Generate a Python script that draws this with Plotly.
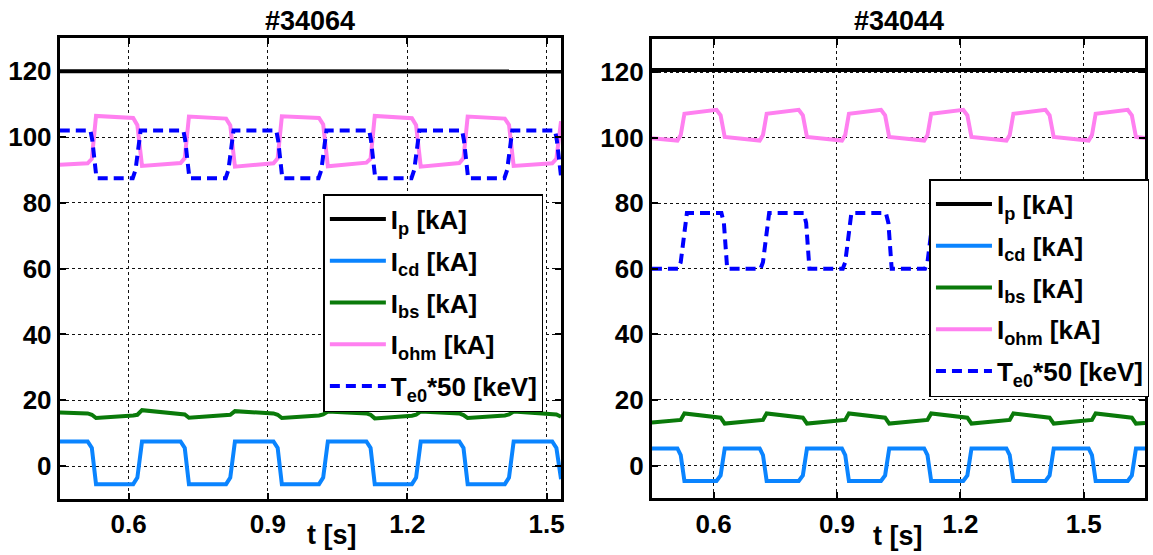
import plotly.graph_objects as go

W, H = 1153, 555

# ---------------- data: shot #34064 (left) ----------------
t_left = [0.452,
          0.512, 0.521, 0.530, 0.610, 0.619, 0.629,
          0.712, 0.721, 0.730, 0.810, 0.819, 0.829,
          0.912, 0.921, 0.930, 1.010, 1.019, 1.029,
          1.112, 1.121, 1.130, 1.210, 1.219, 1.229,
          1.312, 1.321, 1.330, 1.410, 1.419, 1.429,
          1.512, 1.521, 1.531]
ip_left = [120.0,
           120.0, 120.0, 119.8, 119.8, 119.9, 120.0,
           120.1, 120.0, 119.8, 119.8, 119.9, 120.0,
           120.1, 120.0, 119.8, 119.8, 119.9, 120.0,
           120.1, 120.0, 119.8, 119.8, 119.9, 120.0,
           120.1, 120.0, 119.8, 119.8, 119.9, 120.0,
           120.1, 120.0, 119.9]
icd_left = [7.5,
            7.5, 5.5, -5.5, -5.5, -3.5, 7.5,
            7.5, 5.5, -5.5, -5.5, -3.5, 7.5,
            7.5, 5.5, -5.5, -5.5, -3.5, 7.5,
            7.5, 5.5, -5.5, -5.5, -3.5, 7.5,
            7.5, 5.5, -5.5, -5.5, -3.5, 7.5,
            7.5, 5.5, -4.0]
ibs_left = [16.3,
            16.0, 15.6, 14.6, 15.4, 15.6, 17.0,
            16.1, 15.7, 14.7, 15.3, 15.6, 16.7,
            16.0, 15.6, 14.6, 15.4, 15.7, 16.6,
            16.0, 15.6, 14.5, 15.3, 15.6, 16.6,
            16.0, 15.5, 14.6, 15.4, 15.7, 16.6,
            16.0, 15.7, 15.0]
iohm_left = [91.6,
             92.0, 93.4, 106.4, 105.8, 103.6, 91.2,
             92.1, 93.6, 106.2, 105.6, 103.5, 91.0,
             92.0, 93.5, 106.3, 105.8, 103.8, 91.1,
             92.2, 93.4, 106.4, 105.7, 103.6, 91.0,
             92.1, 93.6, 106.2, 105.6, 103.7, 91.2,
             92.0, 93.4, 104.8]
t_te_left = [0.452,
             0.518, 0.522, 0.531, 0.609, 0.615, 0.626,
             0.718, 0.722, 0.731, 0.809, 0.815, 0.826,
             0.918, 0.922, 0.931, 1.009, 1.015, 1.026,
             1.118, 1.122, 1.131, 1.209, 1.215, 1.226,
             1.318, 1.322, 1.331, 1.409, 1.415, 1.426,
             1.518, 1.522, 1.531]
te_left = [102.0,
           102.0, 99.0, 87.5, 87.5, 90.0, 102.0,
           102.0, 99.0, 87.5, 87.5, 90.0, 102.0,
           102.0, 99.0, 87.5, 87.5, 90.0, 102.0,
           102.0, 99.0, 87.5, 87.5, 90.0, 102.0,
           102.0, 99.0, 87.5, 87.5, 90.0, 102.0,
           102.0, 99.0, 88.0]

# ---------------- data: shot #34044 (right) ----------------
t_right = [0.450,
           0.512, 0.520, 0.529, 0.607, 0.617, 0.627,
           0.712, 0.720, 0.729, 0.807, 0.817, 0.827,
           0.912, 0.920, 0.929, 1.007, 1.017, 1.027,
           1.112, 1.120, 1.129, 1.207, 1.217, 1.227,
           1.312, 1.320, 1.329, 1.407, 1.417, 1.427,
           1.512, 1.520, 1.529, 1.607, 1.617, 1.627,
           1.649]
ip_right = [120.6,
            120.6, 120.5, 120.6, 120.5, 120.6, 120.6,
            120.6, 120.5, 120.6, 120.5, 120.6, 120.6,
            120.6, 120.5, 120.6, 120.5, 120.6, 120.6,
            120.6, 120.5, 120.6, 120.5, 120.6, 120.6,
            120.6, 120.5, 120.6, 120.5, 120.6, 120.6,
            120.6, 120.5, 120.6, 120.5, 120.6, 120.6,
            120.6]
icd_right = [5.2,
             5.2, 3.2, -4.7, -4.7, -3.0, 5.2,
             5.2, 3.2, -4.7, -4.7, -3.0, 5.2,
             5.2, 3.2, -4.7, -4.7, -3.0, 5.2,
             5.2, 3.2, -4.7, -4.7, -3.0, 5.2,
             5.2, 3.2, -4.7, -4.7, -3.0, 5.2,
             5.2, 3.2, -4.7, -4.7, -3.0, 5.2,
             5.2]
ibs_right = [13.1,
             13.8, 13.9, 15.9, 15.0, 14.6, 12.8,
             13.8, 13.9, 15.9, 15.0, 14.6, 12.8,
             13.8, 13.9, 15.9, 15.0, 14.6, 12.8,
             13.8, 13.9, 15.9, 15.0, 14.6, 12.8,
             13.8, 13.9, 15.9, 15.0, 14.6, 12.8,
             13.8, 13.9, 15.9, 15.0, 14.6, 12.8,
             13.0]
iohm_right = [99.8,
              99.1, 100.8, 107.3, 108.5, 106.8, 100.2,
              99.1, 100.8, 107.3, 108.5, 106.8, 100.2,
              99.1, 100.8, 107.3, 108.5, 106.8, 100.2,
              99.1, 100.8, 107.3, 108.5, 106.8, 100.2,
              99.1, 100.8, 107.3, 108.5, 106.8, 100.2,
              99.1, 100.8, 107.3, 108.5, 106.8, 100.2,
              99.9]
t_te_right = [0.450,
              0.514, 0.520, 0.535, 0.619, 0.625, 0.633,
              0.714, 0.720, 0.735, 0.819, 0.825, 0.833,
              0.914, 0.920, 0.935, 1.019, 1.025, 1.033,
              1.114, 1.120, 1.135, 1.219, 1.225, 1.233,
              1.314, 1.320, 1.335, 1.419, 1.425, 1.433,
              1.514, 1.520, 1.535, 1.619, 1.625, 1.633,
              1.649]
te_right = [60.0,
            60.0, 62.0, 77.0, 77.0, 74.0, 60.0,
            60.0, 62.0, 77.0, 77.0, 74.0, 60.0,
            60.0, 62.0, 77.0, 77.0, 74.0, 60.0,
            60.0, 62.0, 77.0, 77.0, 74.0, 60.0,
            60.0, 62.0, 77.0, 77.0, 74.0, 60.0,
            60.0, 62.0, 77.0, 77.0, 74.0, 60.0,
            60.0]

titles = ["#34064", "#34044"]
x_ticks = [0.6, 0.9, 1.2, 1.5]
x_tick_text = ["0.6", "0.9", "1.2", "1.5"]
y_ticks = [0, 20, 40, 60, 80, 100, 120]
names = ["I<sub>p</sub> [kA]", "I<sub>cd</sub> [kA]", "I<sub>bs</sub> [kA]",
         "I<sub>ohm</sub> [kA]", "T<sub>e0</sub>*50 [keV]"]

FONT = "Liberation Sans, Arial, sans-serif"
colors = ["#000000", "#0A84FF", "#0A7A0A", "#FF80F0", "#0000FF"]

fig = go.Figure()

panels = [
    (t_left, t_te_left, ip_left, icd_left, ibs_left, iohm_left, te_left, "x", "y", "legend"),
    (t_right, t_te_right, ip_right, icd_right, ibs_right, iohm_right, te_right, "x2", "y2", "legend2"),
]
for pi, (tt, tte, ip, icd, ibs, iohm, te, xa, ya, lg) in enumerate(panels):
    series = [(tt, ip), (tt, icd), (tt, ibs), (tt, iohm), (tte, te)]
    for si, (xs, ys) in enumerate(series):
        fig.add_trace(go.Scatter(
            x=xs, y=ys, mode="lines", name=names[si],
            xaxis=xa, yaxis=ya, legend=lg,
            legendgroup=f"p{pi}s{si}",
            line=dict(color=colors[si], width=4,
                      dash="10px,6px" if si == 4 else "solid"),
        ))

def px_x(v):
    return v / W

def px_y(v):
    return 1 - v / H

axis_common = dict(
    showline=True, linecolor="black", linewidth=3, mirror="ticks",
    ticks="inside", ticklen=6, tickwidth=2, tickcolor="black",
    showgrid=True, gridcolor="#111111", gridwidth=1, griddash="dot",
    zeroline=False,
    tickfont=dict(family=FONT, size=26, color="black", weight="bold"),
)

legend_common = dict(
    xanchor="left", yanchor="top",
    bgcolor="white", bordercolor="black", borderwidth=1.5,
    font=dict(family=FONT, size=26, color="black", weight="bold"),
    tracegroupgap=5, itemwidth=56,
)

fig.update_layout(
    width=W, height=H,
    margin=dict(l=0, r=0, t=0, b=0),
    paper_bgcolor="white", plot_bgcolor="white",
    xaxis=dict(domain=[px_x(60), px_x(563)], range=[0.452, 1.531],
               tickvals=x_ticks, ticktext=x_tick_text, anchor="y",
               ticklabelstandoff=0, **axis_common),
    yaxis=dict(domain=[px_y(499), px_y(38.3)], range=[-10, 130],
               tickvals=y_ticks, anchor="x", ticklabelstandoff=0, **axis_common),
    xaxis2=dict(domain=[px_x(654.2), px_x(1149)], range=[0.45, 1.649],
                tickvals=x_ticks, ticktext=x_tick_text, anchor="y2",
                ticklabelstandoff=0, **axis_common),
    yaxis2=dict(domain=[px_y(498.3), px_y(39.3)], range=[-10, 130],
                tickvals=y_ticks, anchor="x2", ticklabelstandoff=0, **axis_common),
    legend=dict(x=px_x(324.5), y=px_y(194), **legend_common),
    legend2=dict(x=px_x(932.7), y=px_y(179), **legend_common),
    showlegend=True,
)

ann_font = dict(family=FONT, size=27, color="black", weight="bold")
fig.add_annotation(x=px_x(311.5), y=px_y(21), xref="paper", yref="paper",
                   text=titles[0], showarrow=False, font=ann_font,
                   xanchor="center", yanchor="middle")
fig.add_annotation(x=px_x(901.7), y=px_y(21), xref="paper", yref="paper",
                   text=titles[1], showarrow=False, font=ann_font,
                   xanchor="center", yanchor="middle")
fig.add_annotation(x=px_x(333), y=px_y(535), xref="paper", yref="paper",
                   text="t [s]", showarrow=False, font=ann_font,
                   xanchor="center", yanchor="middle")
fig.add_annotation(x=px_x(901.6), y=px_y(536), xref="paper", yref="paper",
                   text="t [s]", showarrow=False, font=ann_font,
                   xanchor="center", yanchor="middle")

fig.write_html("out.html", config={"displayModeBar": False},
               post_script="document.body.style.margin='0px';")
